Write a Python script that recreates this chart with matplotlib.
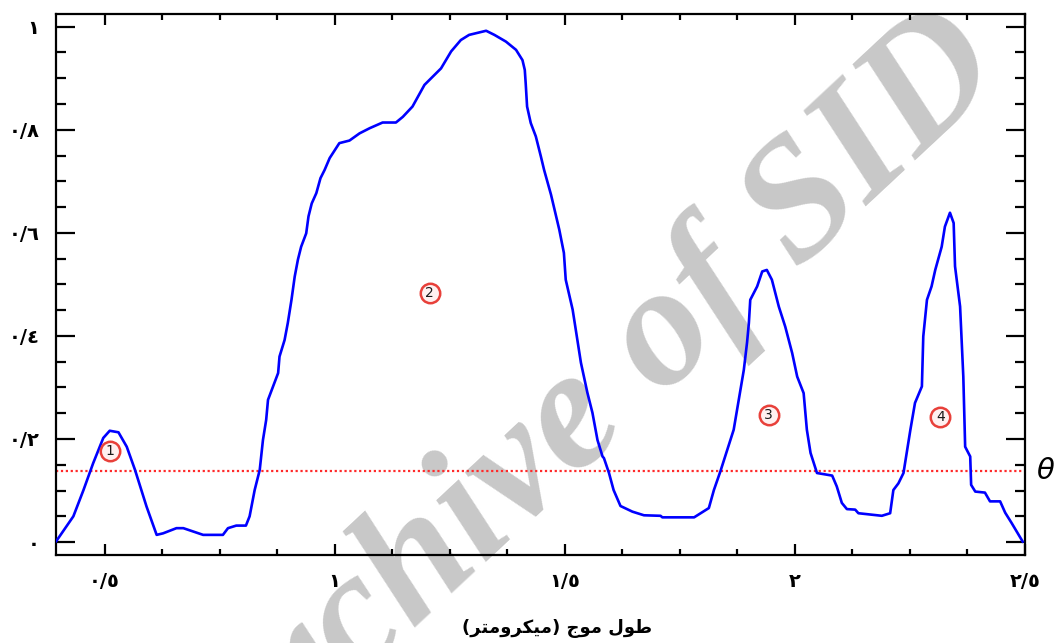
import matplotlib
matplotlib.use("Agg")
import matplotlib.pyplot as plt
from matplotlib.ticker import FixedLocator, MultipleLocator
import matplotlib.transforms as mtransforms

# ---- data ----
wavelength = [0.395, 0.432, 0.454, 0.475, 0.497, 0.511, 0.530, 0.548, 0.566, 0.591,
              0.613, 0.627, 0.656, 0.671, 0.714, 0.757, 0.768, 0.786, 0.807, 0.815,
              0.826, 0.837, 0.844, 0.851, 0.855, 0.866, 0.877, 0.880, 0.891, 0.898,
              0.906, 0.913, 0.920, 0.927, 0.938, 0.943, 0.950, 0.960, 0.969, 0.978,
              0.989, 1.010, 1.032, 1.054, 1.076, 1.104, 1.133, 1.148, 1.169, 1.195,
              1.231, 1.253, 1.274, 1.292, 1.329, 1.347, 1.372, 1.394, 1.408, 1.413,
              1.415, 1.418, 1.426, 1.437, 1.448, 1.455, 1.470, 1.488, 1.498, 1.502,
              1.517, 1.527, 1.535, 1.549, 1.560, 1.571, 1.582, 1.585, 1.596, 1.606,
              1.621, 1.647, 1.672, 1.708, 1.712, 1.781, 1.813, 1.824, 1.838, 1.853,
              1.867, 1.878, 1.889, 1.896, 1.900, 1.903, 1.918, 1.929, 1.939, 1.950,
              1.965, 1.979, 1.994, 2.005, 2.019, 2.026, 2.034, 2.048, 2.081, 2.091,
              2.102, 2.113, 2.131, 2.138, 2.189, 2.207, 2.214, 2.225, 2.236, 2.243,
              2.251, 2.261, 2.276, 2.279, 2.287, 2.297, 2.305, 2.319, 2.326, 2.337,
              2.345, 2.348, 2.359, 2.366, 2.370, 2.381, 2.383, 2.392, 2.413, 2.424,
              2.446, 2.457, 2.471, 2.495]
transmittance = [0.002, 0.050, 0.101, 0.153, 0.202, 0.216, 0.213, 0.185, 0.140, 0.069,
                 0.014, 0.017, 0.027, 0.027, 0.014, 0.014, 0.027, 0.032, 0.032, 0.050,
                 0.101, 0.140, 0.198, 0.237, 0.276, 0.302, 0.328, 0.360, 0.392, 0.425,
                 0.470, 0.515, 0.548, 0.573, 0.599, 0.632, 0.657, 0.677, 0.706, 0.722,
                 0.745, 0.774, 0.779, 0.793, 0.803, 0.814, 0.814, 0.825, 0.845, 0.887,
                 0.919, 0.952, 0.974, 0.984, 0.992, 0.984, 0.971, 0.955, 0.935, 0.916,
                 0.890, 0.845, 0.813, 0.787, 0.748, 0.722, 0.674, 0.606, 0.561, 0.509,
                 0.451, 0.393, 0.348, 0.290, 0.251, 0.198, 0.166, 0.163, 0.134, 0.101,
                 0.070, 0.059, 0.052, 0.051, 0.048, 0.048, 0.066, 0.101, 0.137, 0.179,
                 0.218, 0.276, 0.334, 0.387, 0.425, 0.470, 0.496, 0.525, 0.528, 0.509,
                 0.457, 0.418, 0.367, 0.321, 0.289, 0.218, 0.173, 0.134, 0.129, 0.108,
                 0.076, 0.064, 0.063, 0.056, 0.051, 0.056, 0.101, 0.114, 0.134, 0.173,
                 0.218, 0.270, 0.302, 0.399, 0.470, 0.496, 0.528, 0.573, 0.612, 0.639,
                 0.619, 0.535, 0.457, 0.321, 0.185, 0.166, 0.111, 0.098, 0.096, 0.079,
                 0.079, 0.057, 0.037, 0.001]
threshold = 0.138

band_labels = ["1", "2", "3", "4"]
band_x = [0.512, 1.206, 1.943, 2.316]
band_y = [0.176, 0.484, 0.247, 0.243]

xtick_vals = [0.5, 1.0, 1.5, 2.0, 2.5]
xtick_labels = ["\u0660/\u0665", "\u0661", "\u0661/\u0665", "\u0662", "\u0662/\u0665"]
ytick_vals = [0.0, 0.2, 0.4, 0.6, 0.8, 1.0]
ytick_labels = ["\u0660", "\u0660/\u0662", "\u0660/\u0664", "\u0660/\u0666", "\u0660/\u0668", "\u0661"]

# x-axis title "طول موج (میکرومتر)" in shaped (presentation) forms, visual order
xlabel_text = ("(" + "\uFEAE\uFE98\uFEE3\uFEED\uFEAE\uFEDC\uFEF4\uFEE3" + ")"
               + " " + "\uFE9D\uFEEE\uFEE3" + " " + "\uFEDD\uFEEE\uFEC3")
watermark = "Archive of SID"

# ---- figure ----
fig = plt.figure(figsize=(10.57, 6.43), dpi=100)
fig.patch.set_facecolor("white")
ax = fig.add_axes([0.0533, 0.1369, 0.9164, 0.8409])
ax.set_facecolor("none")

# watermark behind everything
fig.text(0.558, 0.355, watermark, rotation=43, rotation_mode="anchor",
         ha="center", va="center", fontsize=124, color="#c8c8c8",
         family="Liberation Serif", weight="bold", style="italic", zorder=-1)

ax.plot(wavelength, transmittance, color="#0000ff", lw=1.9, zorder=3)
ax.axhline(threshold, color="#ff2a2a", lw=1.6, ls=(0, (1, 1.2)), zorder=2)

for lab, bx, by in zip(band_labels, band_x, band_y):
    ax.plot([bx], [by], marker="o", ms=14, mfc="#fff0f0", mec="#e8403a", mew=1.8, zorder=4)
    ax.text(bx, by, lab, ha="center", va="center", fontsize=10, color="#1a1a1a",
            family="DejaVu Sans", zorder=5)

trans = mtransforms.blended_transform_factory(ax.transAxes, ax.transData)
ax.text(1.012, threshold, "\u03b8", transform=trans, ha="left", va="center",
        fontsize=21, style="italic", family="DejaVu Sans")

ax.set_xlim(0.395, 2.5)
ax.set_ylim(-0.025, 1.024)

ax.xaxis.set_major_locator(FixedLocator(xtick_vals))
ax.set_xticklabels(xtick_labels)
ax.xaxis.set_minor_locator(MultipleLocator(0.125))
ax.yaxis.set_major_locator(FixedLocator(ytick_vals))
ax.set_yticklabels(ytick_labels)
ax.yaxis.set_minor_locator(MultipleLocator(0.05))

for lbl in ax.get_xticklabels() + ax.get_yticklabels():
    lbl.set_fontfamily("DejaVu Sans")
    lbl.set_fontweight("bold")
    lbl.set_fontsize(14)

ax.tick_params(axis="y", which="major", direction="in", length=14, width=1.6,
               left=True, right=True, pad=12)
ax.tick_params(axis="y", which="minor", direction="in", length=7.5, width=1.6,
               left=True, right=True)
ax.tick_params(axis="x", which="major", direction="in", length=8, width=1.6,
               bottom=True, top=True, pad=12)
ax.tick_params(axis="x", which="minor", direction="in", length=4, width=1.6,
               bottom=True, top=True)
for sp in ax.spines.values():
    sp.set_linewidth(1.6)

fig.text(0.527, 0.023, xlabel_text, ha="center", va="center", fontsize=13,
         family="DejaVu Sans", weight="bold")

fig.savefig("out.png", dpi=100)
